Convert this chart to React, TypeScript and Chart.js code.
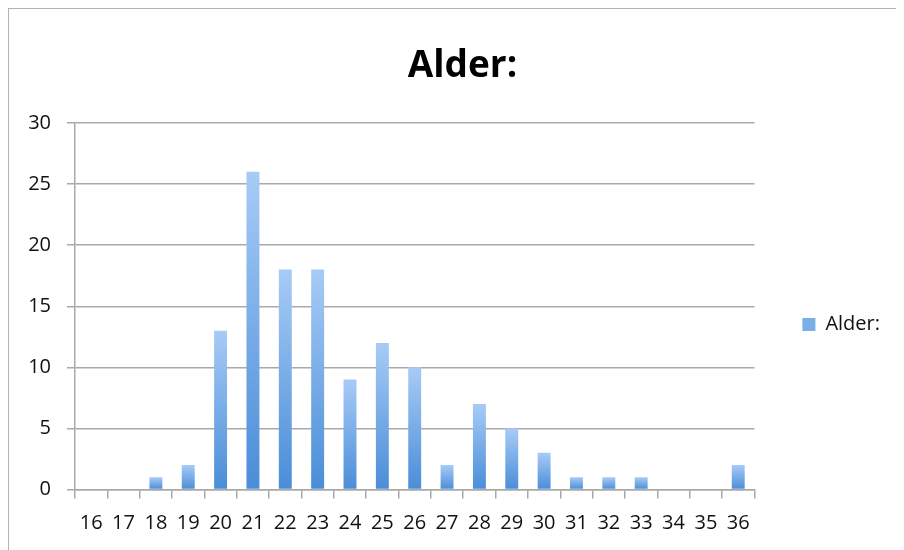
import React, { useEffect, useRef } from "react";
import { Chart, registerables } from "chart.js";

Chart.register(...registerables);

const categories = ["16","17","18","19","20","21","22","23","24","25","26","27","28","29","30","31","32","33","34","35","36"];
const alderValues = [0,0,1,2,13,26,18,18,9,12,10,2,7,5,3,1,1,1,0,0,2];
const seriesName = "Alder:";
const chartTitle = "Alder:";
const yMin = 0;
const yMax = 30;
const yStep = 5;

const FONT = "'Open Sans', 'Liberation Sans', sans-serif";
const GRID = "#a9a9a9";
const CANVAS_W = 921;
const CANVAS_H = 541;

// widens the legend box on its outer side so the title centres like the reference
const legendWiden = {
  id: "legendWiden",
  beforeLayout(chart: any) {
    const lg = chart.legend;
    if (lg && !lg.__widened) {
      const orig = lg.fit.bind(lg);
      lg.fit = () => {
        orig();
        lg.width += 26;
      };
      lg.__widened = true;
    }
  },
};

export default function App() {
  const ref = useRef<HTMLCanvasElement | null>(null);

  useEffect(() => {
    document.documentElement.style.overflow = "hidden";
    document.body.style.overflow = "hidden";
    const canvas = ref.current;
    if (!canvas) return;
    const chart = new Chart(canvas, {
      type: "bar",
      data: {
        labels: categories,
        datasets: [
          {
            label: seriesName,
            data: alderValues,
            backgroundColor: (ctx: any) => {
              if (ctx.type !== "data") return "#7aaee8";
              const c = ctx.chart;
              const ys = c.scales.y;
              if (!ys || !c.chartArea) return "#7aaee8";
              const top = ys.getPixelForValue(ctx.parsed.y);
              const base = ys.getPixelForValue(0);
              if (!isFinite(top) || !isFinite(base) || base - top < 1) return "#7aaee8";
              const g = c.ctx.createLinearGradient(0, top, 0, base);
              g.addColorStop(0, "#a7cbf6");
              g.addColorStop(1, "#4a8dd8");
              return g;
            },
            borderWidth: 0,
            categoryPercentage: 1,
            barPercentage: 0.4,
          },
        ],
      },
      plugins: [legendWiden],
      options: {
        animation: false,
        responsive: false,
        maintainAspectRatio: false,
        layout: { padding: { left: 0, right: 14, top: 0, bottom: 0 } },
        plugins: {
          title: {
            display: true,
            text: chartTitle,
            color: "#000000",
            font: { family: FONT, size: 37, weight: "bold" },
            padding: { top: 35, bottom: 34.6 },
          },
          legend: {
            display: true,
            position: "right",
            title: {
              display: true,
              text: "",
              font: { family: FONT, size: 10, lineHeight: 1 },
              padding: { top: 0, bottom: 80 },
            },
            labels: {
              boxWidth: 13,
              boxHeight: 13,
              padding: 48,
              color: "#111111",
              font: { family: FONT, size: 20 },
            },
          },
          tooltip: { enabled: false },
        },
        scales: {
          x: {
            afterFit: (s: any) => { s.height = 60.5; },
            grid: {
              display: true,
              drawOnChartArea: false,
              drawTicks: true,
              tickLength: 9,
              color: GRID,
              lineWidth: 1.5,
              offset: true,
            },
            border: { display: true, color: GRID, width: 1.5 },
            ticks: {
              color: "#111111",
              font: { family: FONT, size: 20 },
              padding: 13,
              maxRotation: 0,
              autoSkip: false,
            },
          },
          y: {
            min: yMin,
            max: yMax,
            afterFit: (s: any) => { s.width = 66; },
            grid: {
              color: GRID,
              lineWidth: 1.5,
              drawTicks: true,
              tickLength: 8,
            },
            border: { display: true, color: GRID, width: 1.5 },
            ticks: {
              stepSize: yStep,
              color: "#111111",
              font: { family: FONT, size: 20 },
              padding: 16,
            },
          },
        },
      },
    });
    return () => chart.destroy();
  }, []);

  return (
    <div
      style={{
        width: 930,
        height: 560,
        borderLeft: "1px solid #b3b3b3",
        borderTop: "1px solid #b3b3b3",
        background: "#ffffff",
      }}
    >
      <canvas ref={ref} width={CANVAS_W} height={CANVAS_H} style={{ display: "block" }} />
    </div>
  );
}
